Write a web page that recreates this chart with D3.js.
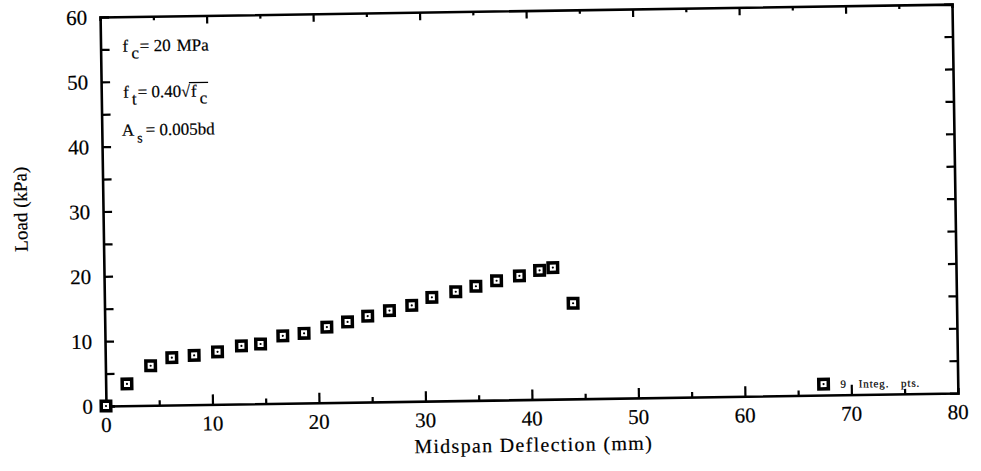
<!DOCTYPE html>
<html>
<head>
<meta charset="utf-8">
<script src="https://cdn.jsdelivr.net/npm/d3@7"></script>
<style>
  body { margin: 0; background: #fff; }
  svg { display: block; }
  text { font-family: "Liberation Serif", "DejaVu Serif", serif; fill: #000; white-space: pre;
         stroke: #000; stroke-width: 0.2px; }
</style>
</head>
<body>
<svg id="chart" width="981" height="471"></svg>
<script>
// ----- data -----
var deflection = [0, 2.0, 4.25, 6.25, 8.35, 10.55, 12.8, 14.6, 16.7, 18.7, 20.85, 22.8,
                  24.7, 26.75, 28.85, 30.75, 33.0, 34.9, 36.85, 39.0, 40.9, 42.15, 44.0];
var load = [0, 3.35, 6.1, 7.3, 7.6, 8.1, 8.95, 9.2, 10.4, 10.75, 11.65, 12.4,
            13.25, 14.05, 14.8, 16.0, 16.8, 17.6, 18.4, 19.1, 19.9, 20.3, 14.75];
var xTicks = [0, 10, 20, 30, 40, 50, 60, 70, 80];
var yTicks = [0, 10, 20, 30, 40, 50, 60];
var legendLabel = "9 Integ. pts.";
var xTitle = "Midspan Deflection (mm)";
var yTitle = "Load (kPa)";

// plot box (before the tilt)
var pLeft = 106, pRight = 958, pTop = 17, pBottom = 406;

var svg = d3.select("#chart");
// the scan is a little tilted, rotate everything round the origin corner
var g = svg.append("g").attr("transform", "rotate(-0.87," + pLeft + "," + pBottom + ")");

var x = d3.scaleLinear().domain([0, 80]).range([pLeft, pRight]);
var y = d3.scaleLinear().domain([0, 60]).range([pBottom, pTop]);

var minorX = d3.range(0, 81, 5);
var minorY = d3.range(0, 61, 5);

//----- axes (ticks all point inward) -----
var bottomAxis = g.append("g").attr("transform", "translate(0," + pBottom + ")")
  .call(d3.axisBottom(x).tickValues(minorX).tickSize(-5).tickFormat(""));
bottomAxis.selectAll(".tick line").filter(function(d){ return d % 10 === 0; }).attr("y2", -10);

var topAxis = g.append("g").attr("transform", "translate(0," + pTop + ")")
  .call(d3.axisTop(x).tickValues(minorX).tickSize(-4).tickFormat(""));
topAxis.selectAll(".tick line").filter(function(d){ return d % 10 === 0; }).attr("y2", 8);

var leftAxis = g.append("g").attr("transform", "translate(" + pLeft + ",0)")
  .call(d3.axisLeft(y).tickValues(minorY).tickSize(-9).tickFormat(""));

var rightAxis = g.append("g").attr("transform", "translate(" + pRight + ",0)")
  .call(d3.axisRight(y).tickValues(minorY).tickSize(-8).tickFormat(""));

g.selectAll(".domain").attr("stroke", "#000").attr("stroke-width", 2.6);
g.selectAll(".tick line").attr("stroke", "#000").attr("stroke-width", 2.2);
// no ticks sitting on the corners
bottomAxis.selectAll(".tick").filter(function(d){ return d === 0 || d === 80; }).remove();
topAxis.selectAll(".tick").filter(function(d){ return d === 0 || d === 80; }).remove();
leftAxis.selectAll(".tick").filter(function(d){ return d === 0 || d === 60; }).remove();
rightAxis.selectAll(".tick").filter(function(d){ return d === 0 || d === 60; }).remove();

// tick labels
g.selectAll(".xlab").data(xTicks).enter().append("text")
  .attr("class", "xlab")
  .attr("x", function(d){ return x(d); })
  .attr("y", pBottom + 26)
  .attr("text-anchor", "middle")
  .style("font-size", "21px")
  .text(function(d){ return d; });

g.selectAll(".ylab").data(yTicks).enter().append("text")
  .attr("class", "ylab")
  .attr("x", pLeft - 13)
  .attr("y", function(d){ return y(d); })
  .attr("dy", "0.35em")
  .attr("text-anchor", "end")
  .style("font-size", "21px")
  .text(function(d){ return d; });

// titles
g.append("text")
  .attr("x", (pLeft + pRight) / 2 + 1)
  .attr("y", pBottom + 52)
  .attr("text-anchor", "middle")
  .style("font-size", "20px")
  .style("letter-spacing", "1.3px")
  .text(xTitle);

g.append("text")
  .attr("transform", "translate(30,208) rotate(-90)")
  .attr("text-anchor", "middle")
  .style("font-size", "19px")
  .text(yTitle);

//----- points -----
var pts = deflection.map(function(d, i){ return [d, load[i]]; });

function marker(sel){
  sel.append("rect")
    .attr("x", -4.75).attr("y", -4.75).attr("width", 9.5).attr("height", 9.5)
    .attr("fill", "#fff").attr("stroke", "#000").attr("stroke-width", 3.5);
  sel.append("circle").attr("r", 1.1).attr("fill", "#000");
}

g.selectAll(".pt").data(pts).enter().append("g")
  .attr("class", "pt")
  .attr("transform", function(d){ return "translate(" + x(d[0]) + "," + y(d[1]) + ")"; })
  .call(marker);

// legend
var leg = g.append("g").attr("transform", "translate(" + x(67.4) + "," + y(1.7) + ")");
leg.call(marker);
leg.append("text")
  .attr("x", 17).attr("y", 4)
  .style("font-size", "11px")
  .style("letter-spacing", "0.9px")
  .style("word-spacing", "8px")
  .text(legendLabel);

//----- material notes, written piece by piece so subscripts line up -----
function richLine(x0, y0, parts){
  var cx = x0, out = [];
  parts.forEach(function(p){
    var t = g.append("text")
      .attr("x", cx)
      .attr("y", y0 + (p.sub ? 7 : 0))
      .style("font-size", (p.size || 17) + "px")
      .text(p.t);
    var w = t.node().getComputedTextLength();
    out.push({x: cx, w: w});
    cx += w + (p.gap || 0);
  });
  return out;
}

richLine(128, 52, [
  {t: "f", gap: 3}, {t: "c", sub: true, size: 17, gap: 1}, {t: "= 20", gap: 6}, {t: "MPa"}
]);

var l2 = richLine(128, 98, [
  {t: "f", gap: 3}, {t: "t", sub: true, size: 17, gap: 1}, {t: "= 0.40"}, {t: "\u221A", size: 16, gap: 1},
  {t: "f", gap: 3}, {t: "c", sub: true, size: 17}
]);
// overline of the root
g.append("line")
  .attr("x1", l2[3].x + l2[3].w - 1).attr("x2", l2[5].x + l2[5].w + 1)
  .attr("y1", 84).attr("y2", 84)
  .attr("stroke", "#000").attr("stroke-width", 1.3);

richLine(126, 136, [
  {t: "A", gap: 3}, {t: "s", sub: true, size: 14, gap: 3}, {t: "= 0.005bd"}
]);
</script>
</body>
</html>
